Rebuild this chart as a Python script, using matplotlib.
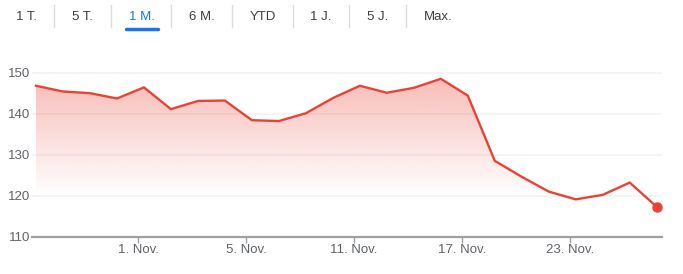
import numpy as np
import matplotlib
matplotlib.use("Agg")
import matplotlib.pyplot as plt
from matplotlib.lines import Line2D

# --- data ---
prices = [146.8, 145.4, 145.0, 143.7, 146.4, 141.1, 143.1, 143.2, 138.4, 138.2,
          140.1, 143.8, 146.8, 145.1, 146.3, 148.5, 144.4, 128.5, 124.6, 121.0,
          119.1, 120.2, 123.2, 117.3]
tick_index = [4, 8, 12, 16, 20]
tick_labels = ["1. Nov.", "5. Nov.", "11. Nov.", "17. Nov.", "23. Nov."]
y_ticks = [110, 120, 130, 140, 150]
tabs = ["1 T.", "5 T.", "1 M.", "6 M.", "YTD", "1 J.", "5 J.", "Max."]
active_tab = "1 M."

RED = "#ea4335"
GREY_TXT = "#5f6368"
W, H = 683, 274

plt.rcParams['font.family'] = ['Liberation Sans', 'DejaVu Sans']

fig = plt.figure(figsize=(W / 100, H / 100), dpi=100)

# plot area in pixels: left 32, right 662, y=110 at 236.7, y=151.5 at 66.5
left_px, right_px = 32, 662
ax = fig.add_axes([left_px / W, (H - 236.7) / H, (right_px - left_px) / W, (236.7 - 66.5) / H])

x = np.arange(len(prices))
px_per_step = (656.7 - 36) / (len(prices) - 1)
ax.set_xlim(-(36 - left_px) / px_per_step, len(prices) - 1 + (right_px - 656.7) / px_per_step)
ax.set_ylim(110, 151.5)

# gradient fill under the line
grad = np.linspace(110, 151.5, 300)
alpha = np.clip((grad - 120) / (149 - 120), 0, 1) * 0.36
rgba = np.zeros((len(grad), 1, 4))
rgba[:, 0, :3] = matplotlib.colors.to_rgb(RED)
rgba[:, 0, 3] = alpha
poly = ax.fill_between(x, prices, 110, color="none", lw=0)
img = ax.imshow(rgba, aspect="auto", origin="lower",
                extent=[x[0], x[-1], 110, 151.5], zorder=1)
img.set_clip_path(poly.get_paths()[0], transform=ax.transData)

ax.plot(x, prices, color=RED, lw=1.7, zorder=3, solid_joinstyle="miter")
ax.plot(x[-1], prices[-1], "o", color=RED, ms=6.5, zorder=4)

# grid
for yv in y_ticks[1:]:
    ax.axhline(yv, color="#f1f3f4", lw=1.2, zorder=0)

for s in ["top", "right", "left"]:
    ax.spines[s].set_visible(False)
ax.spines["bottom"].set_color("#a0a0a0")
ax.spines["bottom"].set_linewidth(1.6)

ax.set_yticks(y_ticks)
ax.set_yticklabels([str(v) for v in y_ticks])
ax.tick_params(axis="y", length=0, pad=1, labelsize=9.5, labelcolor=GREY_TXT)

ax.set_xticks([i - 0.22 for i in tick_index])
ax.set_xticklabels(tick_labels)
ax.tick_params(axis="x", length=4, width=1, color="#a0a0a0", pad=1.5,
               labelsize=9.5, labelcolor=GREY_TXT)

# tab bar on top
tab_centers = [26, 82.5, 141.7, 201.7, 263, 321, 377.5, 438]
separators = [54.3, 111, 171, 232, 293, 349.3, 406]
for label, cx in zip(tabs, tab_centers):
    color = "#1a73e8" if label == active_tab else "#3c4043"
    fig.text(cx / W, 1 - 16.5 / H, label, ha="center", va="center",
             fontsize=9.5, color=color)
for sx in separators:
    fig.add_artist(Line2D([sx / W, sx / W], [1 - 5 / H, 1 - 27 / H],
                          color="#dadce0", lw=1, transform=fig.transFigure))
i_act = tabs.index(active_tab)
fig.add_artist(Line2D([(tab_centers[i_act] - 16) / W, (tab_centers[i_act] + 16) / W],
                      [1 - 28.5 / H, 1 - 28.5 / H], color="#1a73e8", lw=2.5,
                      solid_capstyle="round", transform=fig.transFigure))

fig.savefig("out.png", dpi=100)
